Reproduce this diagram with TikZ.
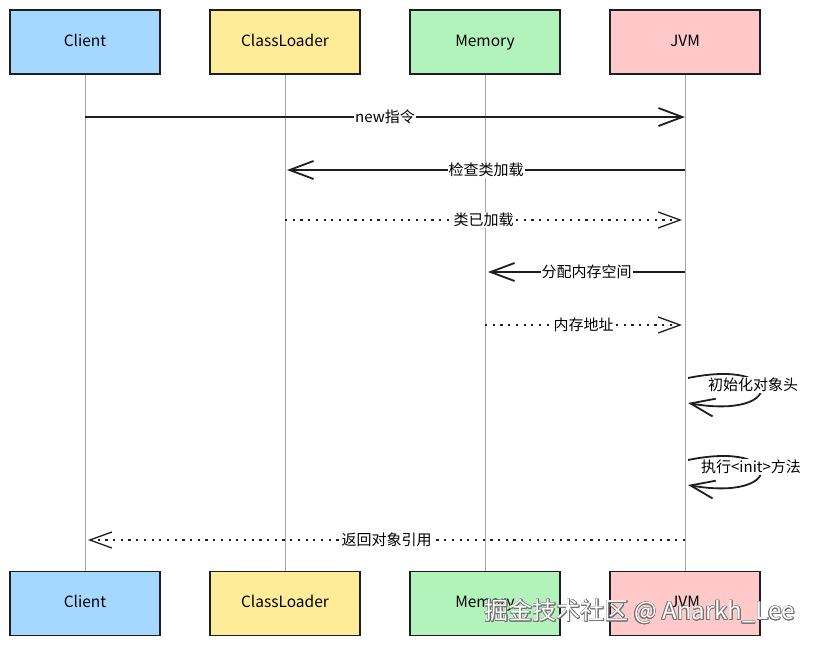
\documentclass[tikz,border=0pt]{standalone}
\usepackage{fontspec}
\setmainfont{Noto Sans CJK SC}
\usepackage{tikz}
\usepackage{contour}
\usetikzlibrary{arrows.meta}
\definecolor{clientblue}{HTML}{A5D8FF}
\definecolor{loaderyellow}{HTML}{FFEC99}
\definecolor{memgreen}{HTML}{B2F2BB}
\definecolor{jvmred}{HTML}{FFC9C9}
\definecolor{ink}{HTML}{1E1E1E}
\contourlength{0.6pt}

\begin{document}
\begin{tikzpicture}[x=1pt,y=-1pt,
  actor/.style={draw=ink, line width=1.5pt, minimum width=150pt, minimum height=64pt, text height=11pt, text depth=3pt, font=\fontsize{15.5}{17}\selectfont},
  life/.style={draw=black!35, line width=0.8pt},
  call/.style={draw=ink, line width=1.8pt, -{Straight Barb[length=24pt,width=18pt,line width=1.8pt]}},
  reply/.style={draw=ink, line width=2.2pt, dash pattern=on 2.2pt off 5.5pt, -{Straight Barb[length=22pt,width=16pt,line width=1.3pt]}},
  lbl/.style={fill=white, inner sep=1pt, font=\fontsize{15}{17}\selectfont}]
\useasboundingbox (0,0) rectangle (817,646);
\foreach \n/\t/\c [count=\i from 0] in {client/Client/clientblue, loader/ClassLoader/loaderyellow, mem/Memory/memgreen, jvm/JVM/jvmred} {
    \node[actor, fill=\c] (\n-top) at (200*\i+85,42) {\t};
    \node[actor, fill=\c] (\n-bot) at (200*\i+85,603.5) {\t};
    \draw[life] (\n-top) -- (\n-bot);
}
\draw[call] (client-top |- 0,117) -- node[lbl] {new指令} (jvm-top |- 0,117);
\draw[call] (jvm-top |- 0,170) -- node[lbl] {检查类加载} ([xshift=2pt]loader-top |- 0,170);
\draw[reply] (loader-top |- 0,220) -- node[lbl] {类已加载} ([xshift=-3pt]jvm-top |- 0,220);
\draw[call] (jvm-top |- 0,272) -- node[lbl] {分配内存空间} ([xshift=3pt]mem-top |- 0,272);
\draw[reply] (mem-top |- 0,325) -- node[lbl] {内存地址} ([xshift=-3pt]jvm-top |- 0,325);
\draw[call] ([xshift=3pt]jvm-top |- 0,378) .. controls (785,358) and (785,420) .. ([xshift=3pt]jvm-top |- 0,403);
\node[lbl] (initHead) at (753,385) {初始化对象头};
\draw[call] ([xshift=3pt]jvm-top |- 0,460) .. controls (785,440) and (785,502) .. ([xshift=3pt]jvm-top |- 0,485);
\node[lbl] (initCall) at (751,467) {执行<init>方法};
\draw[reply] (jvm-top |- 0,540) -- node[lbl] {返回对象引用} ([xshift=3pt]client-top |- 0,540);
\node[font=\fontsize{24}{26}\selectfont, text=white] (mark) at (640,612) {\contour{black!55}{掘金技术社区 @ Anarkh\_Lee}};
\end{tikzpicture}
\end{document}
